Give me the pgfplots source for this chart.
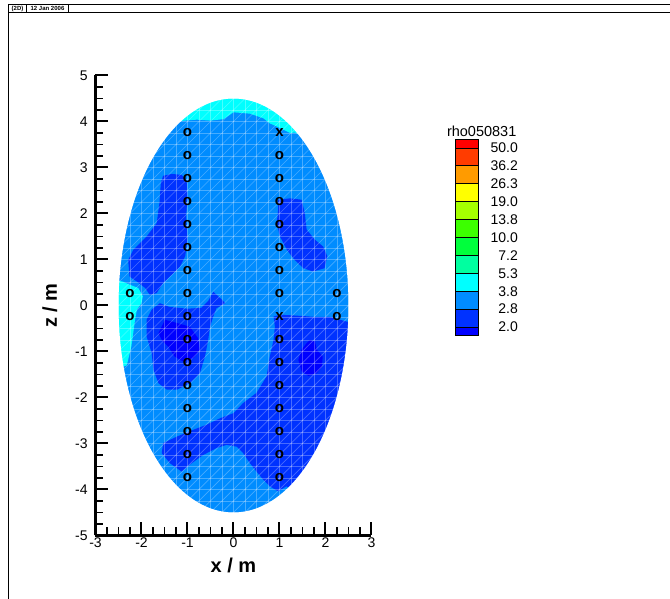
\documentclass[border=0pt]{standalone}
\usepackage{fontspec}
\setmainfont{Liberation Sans}
\usepackage{pgfplots}
\pgfplotsset{compat=1.18}
\definecolor{cR}{RGB}{255,0,0}
\definecolor{cA}{RGB}{255,60,0}
\definecolor{cB}{RGB}{255,155,0}
\definecolor{cC}{RGB}{255,255,0}
\definecolor{cD}{RGB}{165,255,0}
\definecolor{cE}{RGB}{60,255,0}
\definecolor{cF}{RGB}{0,255,60}
\definecolor{cG}{RGB}{0,255,160}
\definecolor{cH}{RGB}{0,255,255}
\definecolor{cI}{RGB}{0,140,255}
\definecolor{cJ}{RGB}{0,50,255}
\definecolor{cK}{RGB}{0,0,255}
\tikzset{meshline/.style={white, opacity=0.28, line width=0.7pt}}
\begin{document}
\begin{tikzpicture}[x=1pt,y=1pt]
\path[use as bounding box] (0,0) rectangle (670,599);
% frame header
\draw[line width=1.4pt] (8.3,0) -- (8.3,594.3) -- (670,594.3);
\draw[line width=1pt] (8.3,586.3) -- (670,586.3);
\draw[line width=0.7pt] (26.7,594.3) -- (26.7,586.3) (68.3,594.3) -- (68.3,586.3);
\node[font=\bfseries\fontsize{6}{6}\selectfont, inner sep=0pt] at (17.5,590.3) {(2D)};
\node[font=\bfseries\fontsize{6}{6}\selectfont, inner sep=0pt] at (47.5,590.3) {12 Jan 2006};
\begin{axis}[
  at={(95.5pt,63.5pt)}, anchor=south west,
  scale only axis, width=276pt, height=460pt,
  xmin=-3, xmax=3, ymin=-5, ymax=5,
  axis lines=left, axis line style={-, line width=2.2pt, black},
  axis on top,
  tick align=inside,
  major tick length=13pt, minor tick length=8pt,
  major tick style={line width=2pt, black},
  minor tick style={line width=1.3pt, black},
  minor tick num=3,
  xtick={-3,-2,-1,0,1,2,3}, xticklabels={-3,-2,-1,0,1,2,3},
  ytick={-5,-4,-3,-2,-1,0,1,2,3,4,5}, yticklabels={-5,-4,-3,-2,-1,0,1,2,3,4,5},
  tick label style={font=\fontsize{14}{14}\selectfont, inner sep=0pt},
  yticklabel style={anchor=east, xshift=-7.7pt},
  xticklabel style={anchor=north, yshift=-2pt},
  xlabel={x / m}, ylabel={z / m},
  xlabel style={font=\bfseries\fontsize{20}{20}\selectfont, at={(axis description cs:0.5,-0.081)}, anchor=base, inner sep=0pt},
  ylabel style={font=\bfseries\fontsize{20}{20}\selectfont, at={(axis description cs:-0.1402,0.5)}, anchor=base, inner sep=0pt},
]
% background level 2.8-3.8
\addplot[fill=cI, draw=none] coordinates {(-2.6,-4.6) (2.6,-4.6) (2.6,4.6) (-2.6,4.6)};
% cyan cap
\addplot[fill=cH, draw=none] coordinates {(-1.8,3.6) (-1.31,4.0) (-0.80,4.04) (-0.51,4.02) (-0.22,4.05) (0,4.2) (0.36,4.17) (0.65,4.07) (0.79,3.96) (1.01,3.86) (1.23,3.75) (1.34,3.76) (1.6,3.6) (1.6,4.6) (-1.8,4.6)};
% cyan left edge
\addplot[fill=cH, draw=none] coordinates {(-2.6,0.56) (-2.41,0.52) (-2.25,0.45) (-2.07,0.38) (-1.97,0.2) (-2.0,0.05) (-2.1,-0.09) (-2.14,-0.31) (-2.18,-0.6) (-2.22,-0.89) (-2.32,-1.3) (-2.6,-1.4)};
% dark regions 2.0-2.8
\addplot[fill=cJ, draw=none] coordinates {(-1.53,2.82) (-1.34,2.86) (-1.13,2.84) (-1.02,2.73) (-1.0,2.37) (-1.03,1.93) (-1.0,1.43) (-1.05,1.07) (-1.16,0.85) (-1.34,0.67) (-1.53,0.49) (-1.67,0.27) (-1.82,0.23) (-1.92,0.38) (-2.10,0.52) (-2.26,0.63) (-2.29,0.99) (-2.18,1.21) (-1.89,1.5) (-1.67,1.79) (-1.61,2.23) (-1.58,2.66)};
\addplot[fill=cJ, draw=none] coordinates {(-1.60,0.05) (-1.4,-0.03) (-1.0,-0.07) (-0.7,-0.05) (-0.55,0.1) (-0.44,0.30) (-0.29,0.16) (-0.18,0.05) (-0.37,-0.06) (-0.44,-0.24) (-0.51,-0.46) (-0.55,-0.75) (-0.62,-1.11) (-0.73,-1.47) (-0.95,-1.69) (-1.23,-1.83) (-1.45,-1.83) (-1.63,-1.69) (-1.74,-1.40) (-1.78,-1.03) (-1.89,-0.67) (-1.89,-0.31) (-1.78,-0.09)};
\addplot[fill=cJ, draw=none] coordinates {(0.97,2.30) (1.23,2.33) (1.48,2.30) (1.55,2.01) (1.59,1.65) (1.77,1.43) (1.95,1.28) (2.04,1.07) (1.98,0.81) (1.73,0.74) (1.52,0.81) (1.33,0.99) (1.16,1.21) (1.01,1.5) (0.94,1.79) (0.97,2.08)};
\addplot[fill=cJ, draw=none] coordinates {(0.87,-0.24) (1.01,-0.20) (1.37,-0.22) (1.81,-0.25) (2.10,-0.25) (2.46,-0.35) (2.6,-0.35) (2.6,-4) (1.6,-4.2) (1.15,-3.93) (0.97,-4.04) (0.79,-3.93) (0.65,-3.79) (0.50,-3.61) (0.36,-3.43) (0.21,-3.21) (0.07,-3.07) (-0.15,-3.03) (-0.37,-3.10) (-0.66,-3.25) (-0.91,-3.43) (-1.13,-3.61) (-1.38,-3.43) (-1.56,-3.21) (-1.53,-2.99) (-1.23,-2.85) (-0.87,-2.70) (-0.58,-2.59) (-0.29,-2.45) (0.0,-2.34) (0.21,-2.12) (0.50,-1.90) (0.72,-1.54) (0.79,-1.11) (0.87,-0.75) (0.90,-0.46)};
% darkest < 2.0
\addplot[fill=cK, draw=none] coordinates {(-1.63,-0.60) (-1.49,-0.31) (-1.23,-0.38) (-0.95,-0.46) (-0.77,-0.71) (-0.73,-0.96) (-0.87,-1.14) (-1.09,-1.22) (-1.28,-1.11) (-1.42,-0.89) (-1.56,-0.75)};
\addplot[fill=cK, draw=none] coordinates {(1.66,-0.75) (1.77,-0.78) (1.81,-0.96) (1.94,-1.11) (1.92,-1.33) (1.81,-1.47) (1.63,-1.53) (1.48,-1.43) (1.41,-1.18) (1.48,-0.96) (1.59,-0.82)};
% mesh
\pgfplotsinvokeforeach{-2.5,-2.25,...,2.5}{\draw[meshline] (axis cs:#1,-4.6) -- (axis cs:#1,4.6);}
\pgfplotsinvokeforeach{-4.5,-4.25,...,4.5}{\draw[meshline] (axis cs:-2.6,#1) -- (axis cs:2.6,#1);}
\pgfplotsinvokeforeach{-13,-12.75,...,3}{\draw[meshline] (axis cs:#1,-5) -- ++(axis direction cs:10,10);}
% mask outside ellipse
\fill[white, even odd rule] (axis cs:-3.5,-5.5) rectangle (axis cs:3.5,5.5) (axis cs:0,0) ellipse [x radius=2.5, y radius=4.5];
% electrodes
\addplot[only marks, mark=text, text mark={\bfseries\fontsize{15}{15}\selectfont o}] coordinates {
(-1,3.75) (-1,3.25) (-1,2.75) (-1,2.25) (-1,1.75) (-1,1.25) (-1,0.75) (-1,0.25) (-1,-0.25) (-1,-0.75) (-1,-1.25) (-1,-1.75) (-1,-2.25) (-1,-2.75) (-1,-3.25) (-1,-3.75)
(1,3.25) (1,2.75) (1,2.25) (1,1.75) (1,1.25) (1,0.75) (1,0.25) (1,-0.75) (1,-1.25) (1,-1.75) (1,-2.25) (1,-2.75) (1,-3.25) (1,-3.75)
(-2.25,0.25) (-2.25,-0.25) (2.25,0.25) (2.25,-0.25)};
\addplot[only marks, mark=text, text mark={\bfseries\fontsize{15}{15}\selectfont x}] coordinates {(1,3.75) (1,-0.25)};
\end{axis}
% colour legend
\fill[cR] (455.7,451) rectangle (478.7,460);
\fill[cA] (455.7,433.1) rectangle (478.7,451);
\fill[cB] (455.7,415.2) rectangle (478.7,433.1);
\fill[cC] (455.7,397.3) rectangle (478.7,415.2);
\fill[cD] (455.7,379.4) rectangle (478.7,397.3);
\fill[cE] (455.7,361.5) rectangle (478.7,379.4);
\fill[cF] (455.7,343.6) rectangle (478.7,361.5);
\fill[cG] (455.7,325.7) rectangle (478.7,343.6);
\fill[cH] (455.7,307.8) rectangle (478.7,325.7);
\fill[cI] (455.7,289.9) rectangle (478.7,307.8);
\fill[cJ] (455.7,272.0) rectangle (478.7,289.9);
\fill[cK] (455.7,264) rectangle (478.7,272.0);
\draw[line width=0.8pt] (455.7,264) rectangle (478.7,460);
\foreach \yy in {451,433.1,415.2,397.3,379.4,361.5,343.6,325.7,307.8,289.9,272.0}{\draw[line width=0.8pt] (455.7,\yy) -- (478.7,\yy);}
\node[anchor=base, inner sep=0pt, font=\fontsize{14.5}{14.5}\selectfont] at (481.7,462.3) {rho050831};
\foreach \yy/\lab in {451/50.0,433.1/36.2,415.2/26.3,397.3/19.0,379.4/13.8,361.5/10.0,343.6/7.2,325.7/5.3,307.8/3.8,289.9/2.8,272.0/2.0}{\node[anchor=east, inner sep=0pt, font=\fontsize{14}{14}\selectfont] at (518,\yy) {\lab};}
\end{tikzpicture}
\end{document}
